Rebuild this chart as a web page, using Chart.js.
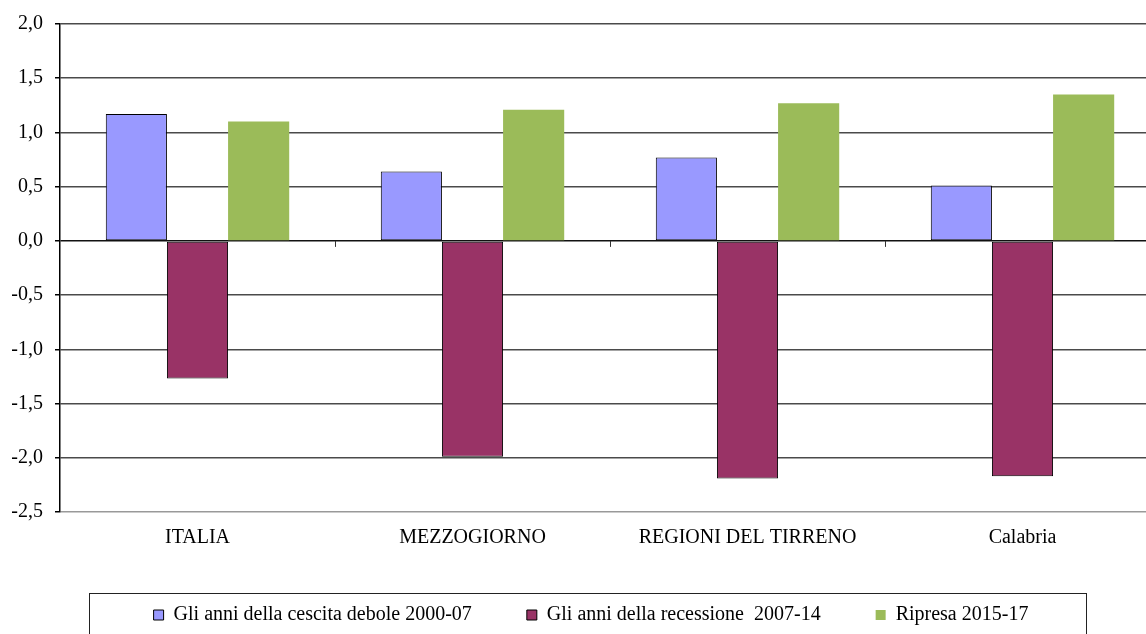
<!DOCTYPE html>
<html>
<head>
<meta charset="utf-8">
<script src="https://cdn.jsdelivr.net/npm/chart.js@4"></script>
<style>
  html, body { margin: 0; padding: 0; background: #fff; overflow: hidden; }
  #wrap { position: relative; width: 1175px; height: 645px; }
</style>
</head>
<body>
<div id="wrap"><canvas id="barchart"></canvas></div>
<script>
const categories = ['ITALIA', 'MEZZOGIORNO', 'REGIONI DEL TIRRENO', 'Calabria'];
const crescita = [1.17, 0.64, 0.77, 0.51];
const recessione = [-1.27, -1.99, -2.19, -2.17];
const ripresa = [1.10, 1.21, 1.27, 1.35];
const yMin = -2.5, yMax = 2.0, yStep = 0.5;

const serif = "'Liberation Serif', 'Times New Roman', serif";

// tacche sull'asse dello zero e riquadro della legenda
const extras = {
    id: 'extras',
    afterLayout(chart) {
        // la legenda è un po' spostata a destra nell'originale
        if (chart.legend) chart.legend.left += 22;
    },
    afterDatasetsDraw(chart) {
        const c = chart.ctx;
        const x = chart.scales.x, y = chart.scales.y;
        const y0 = y.getPixelForValue(0);
        c.save();
        c.strokeStyle = '#333';
        c.lineWidth = 1;
        for (let i = 0; i < categories.length - 1; i++) {
            const bx = Math.round((x.getPixelForValue(i) + x.getPixelForValue(i + 1)) / 2) + 0.5;
            c.beginPath();
            c.moveTo(bx, y0);
            c.lineTo(bx, y0 + 6);
            c.stroke();
        }
        c.restore();
    },
    afterDraw(chart) {
        const lg = chart.legend;
        if (!lg || !lg.legendHitBoxes.length) return;
        const hb = lg.legendHitBoxes;
        const first = hb[0], last = hb[hb.length - 1];
        const c = chart.ctx;
        const mid = first.top + first.height / 2;
        const left = first.left - 65;
        const right = last.left + last.width + 57;
        c.save();
        c.strokeStyle = '#222';
        c.lineWidth = 1;
        c.strokeRect(Math.round(left) + 0.5, Math.round(mid - 22) + 0.5, Math.round(right - left), 100);
        c.restore();
    }
};

new Chart(document.getElementById('barchart'), {
    type: 'bar',
    data: {
        labels: categories,
        datasets: [
            {
                label: 'Gli anni della cescita debole 2000-07',
                data: crescita,
                backgroundColor: '#9999FF',
                borderColor: '#000',
                borderWidth: 1,
                borderSkipped: false
            },
            {
                label: 'Gli anni della recessione  2007-14',
                data: recessione,
                backgroundColor: '#993366',
                borderColor: '#000',
                borderWidth: 1,
                borderSkipped: false
            },
            {
                label: 'Ripresa 2015-17',
                data: ripresa,
                backgroundColor: '#9BBB59',
                borderColor: '#9BBB59',
                borderWidth: 0
            }
        ]
    },
    options: {
        responsive: true,
        maintainAspectRatio: false,
        animation: false,
        events: [],
        layout: { padding: { top: 17, left: 0, right: 15, bottom: 10 } },
        datasets: {
            bar: { categoryPercentage: 0.667, barPercentage: 1 }
        },
        scales: {
            x: {
                grid: { display: false, drawTicks: false },
                border: { display: false },
                ticks: {
                    color: '#000',
                    padding: 14,
                    maxRotation: 0,
                    font: { family: serif, size: 20 }
                },
                afterFit(scale) { scale.height = 38; }
            },
            y: {
                min: yMin,
                max: yMax,
                border: { display: true, color: '#000', width: 1.5 },
                grid: {
                    color(ctx) {
                        if (ctx.tick && ctx.tick.value === 0) return '#111';
                        if (ctx.tick && ctx.tick.value === yMin) return '#999';
                        return '#4a4a4a';
                    },
                    lineWidth: 1.5,
                    tickLength: 5,
                    tickColor: '#000',
                    tickWidth: 1.5
                },
                ticks: {
                    stepSize: yStep,
                    color: '#000',
                    padding: 12,
                    font: { family: serif, size: 20 },
                    callback: (v) => v.toFixed(1).replace('.', ',')
                },
                afterFit(scale) { scale.width = 60; }
            }
        },
        plugins: {
            legend: {
                position: 'bottom',
                labels: {
                    color: '#000',
                    boxWidth: 10,
                    boxHeight: 10,
                    padding: 55,
                    font: { family: serif, size: 20 }
                }
            },
            tooltip: { enabled: false }
        }
    },
    plugins: [extras]
});
</script>
</body>
</html>
